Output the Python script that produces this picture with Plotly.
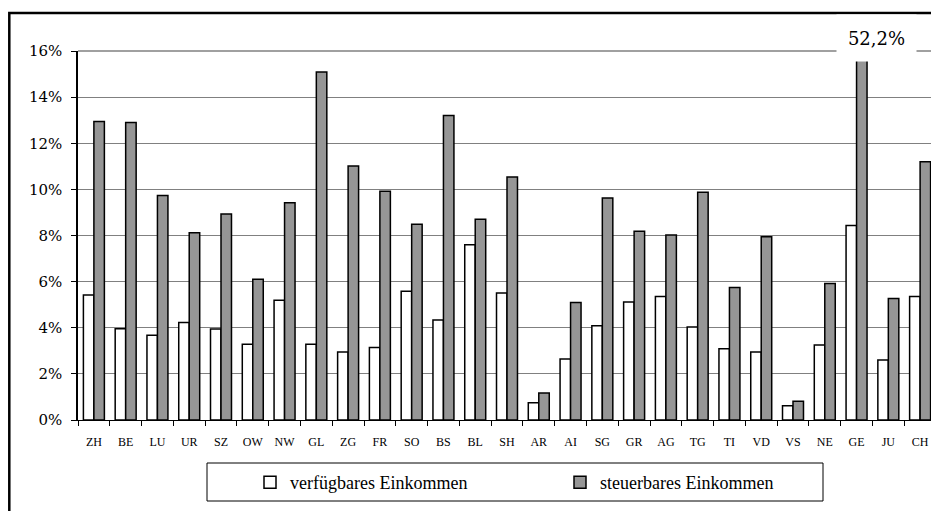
import plotly.graph_objects as go

cantons = ["ZH","BE","LU","UR","SZ","OW","NW","GL","ZG","FR","SO","BS","BL","SH",
           "AR","AI","SG","GR","AG","TG","TI","VD","VS","NE","GE","JU","CH"]
verfuegbar = [5.42,3.96,3.67,4.23,3.95,3.28,5.19,3.28,2.95,3.14,5.58,4.34,7.60,5.51,
              0.75,2.65,4.09,5.12,5.36,4.03,3.09,2.95,0.62,3.25,8.43,2.60,5.36]
steuerbar = [12.94,12.90,9.73,8.12,8.93,6.10,9.42,15.09,11.01,9.92,8.49,13.20,8.70,10.54,
             1.17,5.09,9.63,8.18,8.02,9.87,5.75,7.95,0.81,5.92,52.2,5.27,11.20]
y_ticks = [0,2,4,6,8,10,12,14,16]
y_tick_labels = ["0%","2%","4%","6%","8%","10%","12%","14%","16%"]
label_ge = "52,2%"

# page body has an 8px margin; work in screen coordinates and convert
OFF = 8
W, H = 939 - OFF, 511 - OFF
L, R, T, B = 78 - OFF, 3, 51 - OFF, 91
pw, ph = W - L - R, H - T - B

def px_x(p):  # screen x -> paper
    return (p - OFF - L) / pw
def px_y(p):  # screen y -> paper
    return (H - B - (p - OFF)) / ph

fig = go.Figure()
fig.add_bar(x=cantons, y=verfuegbar, name="verfügbares Einkommen",
            marker=dict(color="white", line=dict(color="black", width=1.5)))
fig.add_bar(x=cantons, y=steuerbar, name="steuerbares Einkommen",
            marker=dict(color="#969696", line=dict(color="black", width=1.5)))

fig.update_layout(
    width=W, height=H,
    margin=dict(l=L, r=R, t=T, b=B, autoexpand=False),
    paper_bgcolor="white", plot_bgcolor="white",
    barmode="group", bargap=0.34, bargroupgap=0,
    showlegend=True,
    legend=dict(orientation="h", x=px_x(250), y=px_y(464), xanchor="left", yanchor="top",
                entrywidth=265, entrywidthmode="pixels",
                font=dict(family="Liberation Serif", size=18, color="black"),
                bgcolor="rgba(0,0,0,0)", borderwidth=0, itemclick=False),
    xaxis=dict(type="category", tickson="boundaries", ticks="outside", ticklen=5,
               tickcolor="black", showline=True, linecolor="black", linewidth=1,
               tickangle=0, automargin=False, ticklabelstandoff=11,
               tickfont=dict(family="Liberation Serif", size=12, color="black"),
               showgrid=False, fixedrange=True),
    yaxis=dict(range=[0, 16], tickmode="array", tickvals=y_ticks, ticktext=y_tick_labels,
               ticks="outside", ticklen=5, automargin=False,
               tickcolor="black", showline=True, linecolor="black", linewidth=1.5,
               gridcolor="#808080", gridwidth=1, zeroline=False,
               ticklabelstandoff=6,
               tickfont=dict(family="DejaVu Serif", size=15, color="black"),
               fixedrange=True),
    shapes=[
        dict(type="line", xref="paper", yref="paper", x0=1, x1=1, y0=0, y1=1,
             line=dict(color="#808080", width=1.5)),
        dict(type="line", xref="paper", yref="paper", x0=0, x1=1, y0=1, y1=1,
             line=dict(color="#808080", width=1.5)),
        dict(type="rect", xref="paper", yref="paper",
             x0=px_x(207), x1=px_x(823), y0=px_y(463), y1=px_y(501),
             line=dict(color="black", width=1), fillcolor="rgba(0,0,0,0)"),
        dict(type="rect", xref="paper", yref="paper",
             x0=px_x(9.3), x1=px_x(960), y0=px_y(13), y1=px_y(540),
             line=dict(color="black", width=2.5), fillcolor="rgba(0,0,0,0)"),
    ],
    annotations=[
        dict(text=label_ge, x="GE", xref="x", y=px_y(38), yref="paper",
             xanchor="center", yanchor="middle",
             xshift=20, showarrow=False, bgcolor="white", width=77, height=44,
             font=dict(family="DejaVu Serif", size=18, color="black")),
    ],
)

fig.write_html("out.html")
